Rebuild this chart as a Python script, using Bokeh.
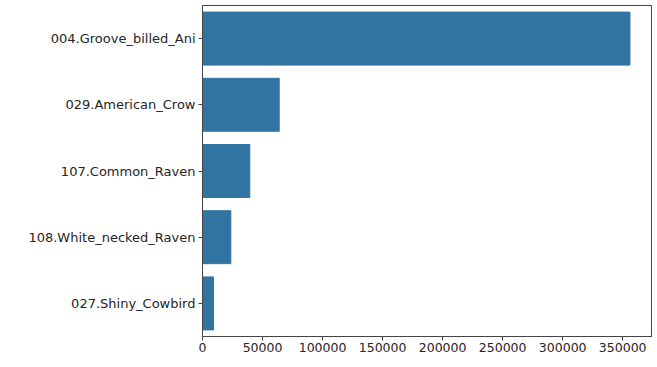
from bokeh.plotting import figure
from bokeh.models import FactorRange, Range1d, SingleIntervalTicker, BasicTickFormatter
from bokeh.embed import file_html
from bokeh.resources import INLINE

species = ["004.Groove_billed_Ani", "029.American_Crow", "107.Common_Raven",
           "108.White_necked_Raven", "027.Shiny_Cowbird"]
counts = [356000, 63900, 39400, 23600, 9200]

factors = list(reversed(species))

p = figure(frame_width=450, frame_height=331, output_backend="svg", toolbar_location=None,
           y_range=FactorRange(factors=factors, range_padding=0),
           x_range=Range1d(0, 374800),
           min_border_top=5, min_border_right=0, min_border_bottom=0, min_border_left=202)

p.hbar(y=species, right=counts, left=0, height=0.8, fill_color="#3274a1",
       line_color="#3274a1")

p.xgrid.grid_line_color = None
p.ygrid.grid_line_color = None
p.outline_line_color = "#444444"
p.outline_line_width = 1

p.xaxis.ticker = SingleIntervalTicker(interval=50000, num_minor_ticks=0)
p.xaxis.formatter = BasicTickFormatter(use_scientific=False)
for ax in (p.xaxis, p.yaxis):
    ax.axis_label = None
    ax.axis_line_color = "#444444"
    ax.major_tick_line_color = "#444444"
    ax.major_tick_out = 4
    ax.major_tick_in = 0
    ax.minor_tick_line_color = None
    ax.major_label_text_font = "DejaVu Sans"
    ax.major_label_text_color = "#262626"
    ax.major_label_standoff = 3

p.yaxis.major_label_text_font_size = "13px"
p.xaxis.major_label_text_font_size = "12.5px"
p.xaxis.major_label_standoff = 2

open("out.html", "w").write(file_html(p, INLINE))
